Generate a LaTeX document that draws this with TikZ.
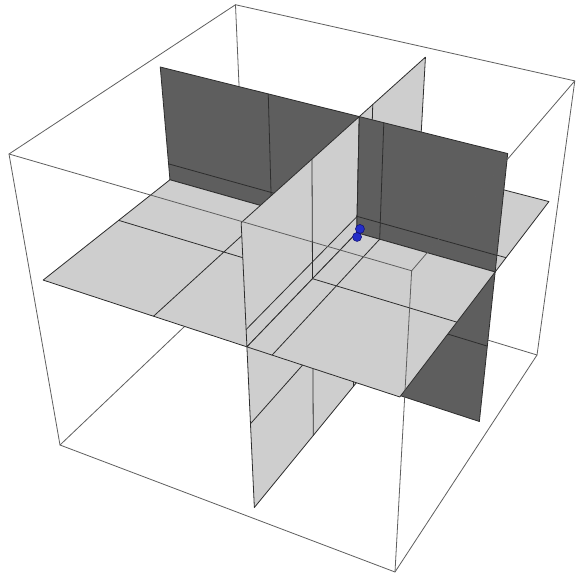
\documentclass[tikz,border=0pt]{standalone}
\definecolor{lightface}{RGB}{206,206,206}
\definecolor{darkface}{RGB}{94,94,94}
\definecolor{planeline}{RGB}{45,45,45}
\definecolor{boxline}{RGB}{95,95,95}
\definecolor{dotblue}{RGB}{35,45,200}
\definecolor{dotrim}{RGB}{20,20,120}
\newcommand{\lo}{0.02}
\newcommand{\vlo}{0.045}
\newcommand{\hi}{0.98}
\newcommand{\pu}{0.594}
\newcommand{\pv}{0.585}
\newcommand{\pw}{0.604}
\newcommand{\ma}{0.34}
\newcommand{\mb}{0.66}
% named projected point: name, u, v, w
\newcommand{\pnt}[4]{\coordinate (#1) at ({px(#2,#3,#4)},{py(#2,#3,#4)});}
\newcommand{\drawquad}[1]{%
  \filldraw[#1] (q1) -- (q2) -- (q3) -- (q4) -- cycle;
  \draw[meshline] (m1) -- (m2) (m3) -- (m4);}
% quarter of the plane u = pu : v1 v2 w1 w2 vmesh wmesh
\newcommand{\quadU}[6]{%
  \pnt{q1}{\pu}{#1}{#3}\pnt{q2}{\pu}{#2}{#3}\pnt{q3}{\pu}{#2}{#4}\pnt{q4}{\pu}{#1}{#4}%
  \pnt{m1}{\pu}{#5}{#3}\pnt{m2}{\pu}{#5}{#4}\pnt{m3}{\pu}{#1}{#6}\pnt{m4}{\pu}{#2}{#6}%
  \drawquad{lightplane}}
% quarter of the plane v = pv : u1 u2 w1 w2 umesh wmesh
\newcommand{\quadV}[6]{%
  \pnt{q1}{#1}{\pv}{#3}\pnt{q2}{#2}{\pv}{#3}\pnt{q3}{#2}{\pv}{#4}\pnt{q4}{#1}{\pv}{#4}%
  \pnt{m1}{#5}{\pv}{#3}\pnt{m2}{#5}{\pv}{#4}\pnt{m3}{#1}{\pv}{#6}\pnt{m4}{#2}{\pv}{#6}%
  \drawquad{darkplane}}
% quarter of the plane w = pw : u1 u2 v1 v2 umesh vmesh
\newcommand{\quadW}[6]{%
  \pnt{q1}{#1}{#3}{\pw}\pnt{q2}{#2}{#3}{\pw}\pnt{q3}{#2}{#4}{\pw}\pnt{q4}{#1}{#4}{\pw}%
  \pnt{m1}{#5}{#3}{\pw}\pnt{m2}{#5}{#4}{\pw}\pnt{m3}{#1}{#6}{\pw}\pnt{m4}{#2}{#6}{\pw}%
  \drawquad{lightplane}}
\tikzset{
  declare function={
    dd(\qa,\qb,\qc)=1-0.0975*\qa+0.2029*\qb-0.164*\qc;
    px(\qa,\qb,\qc)=(60+296.49*\qa+237.12*\qb-52.48*\qc)/dd(\qa,\qb,\qc);
    py(\qa,\qb,\qc)=(445+71.23*\qa-123.83*\qb-316.26*\qc)/dd(\qa,\qb,\qc);
  },
  lightplane/.style={fill=lightface, draw=planeline, line width=0.8pt, line join=round},
  darkplane/.style={fill=darkface, draw=planeline, line width=0.8pt, line join=round},
  meshline/.style={draw=planeline, line width=0.8pt},
  boxedge/.style={draw=boxline, line width=0.8pt, line join=round, line cap=round},
  bluedot/.style={fill=dotblue, draw=dotrim, line width=0.6pt}
}
\begin{document}
\begin{tikzpicture}[x=1pt,y=-1pt]
\useasboundingbox[fill=white] (0,0) rectangle (576,576);
% cube corners (u,v,w in [0,1])
\pnt{E}{0}{0}{0}
\pnt{F}{1}{0}{0}
\pnt{G}{1}{1}{0}
\pnt{H}{0}{1}{0}
\pnt{A}{0}{0}{1}
\pnt{D}{1}{0}{1}
\pnt{C}{1}{1}{1}
\pnt{B}{0}{1}{1}
% hidden box edges (drawn first)
\draw[boxedge] (E) -- (H) -- (G);
\draw[boxedge] (B) -- (H);
% planes, back to front
\quadW{\lo}{\pu}{\pv}{\hi}{\ma}{\mb}
\quadV{\lo}{\pu}{\vlo}{\pw}{\ma}{\ma}
\quadV{\lo}{\pu}{\pw}{\hi}{\ma}{\mb}
\quadW{\lo}{\pu}{\lo}{\pv}{\ma}{\ma}
\quadU{\lo}{\pv}{\lo}{\pw}{\ma}{\ma}
\quadU{\pv}{\hi}{\lo}{\pw}{\mb}{\ma}
\quadU{\lo}{\pv}{\pw}{\hi}{\ma}{\mb}
\quadU{\pv}{\hi}{\pw}{\hi}{\mb}{\mb}
\quadW{\pu}{\hi}{\pv}{\hi}{\mb}{\mb}
\quadV{\pu}{\hi}{\vlo}{\pw}{\mb}{\ma}
\quadV{\pu}{\hi}{\pw}{\hi}{\mb}{\mb}
\quadW{\pu}{\hi}{\lo}{\pv}{\mb}{\ma}
% visible box edges
\draw[boxedge] (A) -- (B) -- (C) -- (D) -- cycle;
\draw[boxedge] (A) -- (E) -- (F) -- (G) -- (C);
\draw[boxedge] (D) -- (F);
% the point at the common centre
\pnt{O}{\pu}{\pv}{\pw}
\fill[bluedot] ([shift={(3.2,-3.8)}]O) circle[radius=4.5pt];
\fill[bluedot] ([shift={(0.3,4.2)}]O) circle[radius=4.5pt];
\end{tikzpicture}
\end{document}
